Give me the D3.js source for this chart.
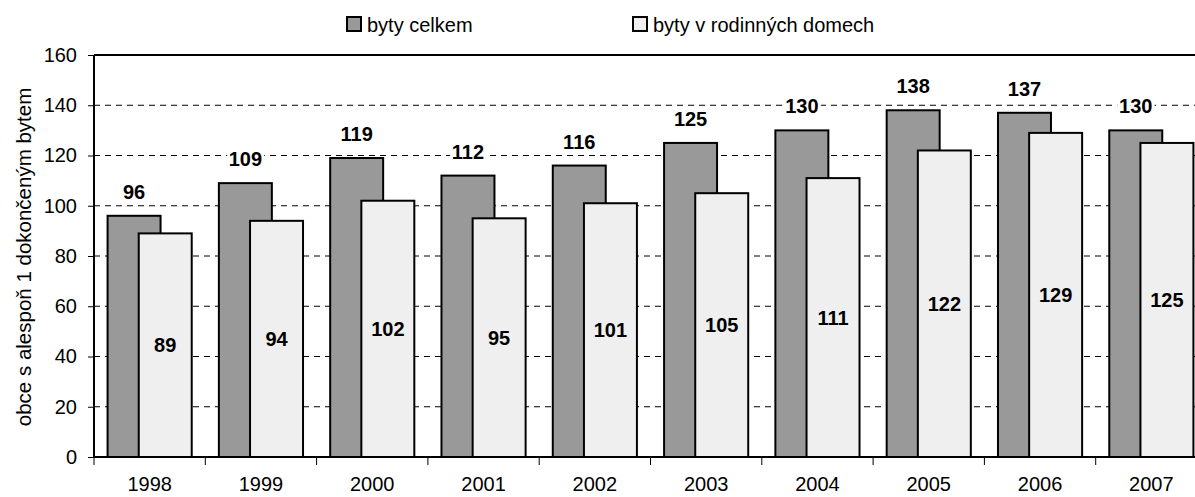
<!DOCTYPE html>
<html>
<head>
<meta charset="utf-8">
<script src="https://cdn.jsdelivr.net/npm/d3@7"></script>
<style>
  body { margin: 0; background: #fff; }
  text { font-family: "Liberation Sans", Arial, sans-serif; }
</style>
</head>
<body>
<svg id="chart" width="1195" height="497"></svg>
<script>
var years = ["1998", "1999", "2000", "2001", "2002", "2003", "2004", "2005", "2006", "2007"];
var bytyCelkem = [96, 109, 119, 112, 116, 125, 130, 138, 137, 130];
var bytyRodinne = [89, 94, 102, 95, 101, 105, 111, 122, 129, 125];
var seriesNames = ["byty celkem", "byty v rodinných domech"];
var yTicks = [0, 20, 40, 60, 80, 100, 120, 140, 160];

var svg = d3.select("#chart");
var margin = { left: 94, top: 55, right: -12, bottom: 40 };
var W = 1195, H = 497;
var plotW = W - margin.left - margin.right;
var plotH = H - margin.top - margin.bottom;

var x = d3.scaleBand().domain(years).range([0, plotW]);
var y = d3.scaleLinear().domain([0, 160]).range([plotH, 0]);

var g = svg.append("g").attr("transform", "translate(" + margin.left + "," + margin.top + ")");

// dashed grid lines
g.selectAll(".grid")
    .data(yTicks.filter(function(d) { return d > 0 && d < 160; }))
  .enter()
    .append("line")
    .attr("class", "grid")
    .attr("x1", 0).attr("x2", plotW)
    .attr("y1", function(d) { return y(d); })
    .attr("y2", function(d) { return y(d); })
    .attr("stroke", "#000")
    .attr("stroke-width", 1)
    .attr("stroke-dasharray", "6,5");

// top border
g.append("line")
    .attr("x1", 0).attr("x2", plotW)
    .attr("y1", y(160)).attr("y2", y(160))
    .attr("stroke", "#000").attr("stroke-width", 2);

var bw = x.bandwidth() * 0.476;
var shift = x.bandwidth() * 0.28;
var groupW = bw + shift;

var groups = g.selectAll(".year")
    .data(years)
  .enter()
    .append("g")
    .attr("class", "year")
    .attr("transform", function(d) {
        return "translate(" + (x(d) + (x.bandwidth() - groupW) / 2) + ",0)";
    });

groups.append("rect")
    .attr("x", 0)
    .attr("width", bw)
    .attr("y", function(d, i) { return y(bytyCelkem[i]); })
    .attr("height", function(d, i) { return plotH - y(bytyCelkem[i]); })
    .attr("fill", "#999999")
    .attr("stroke", "#000")
    .attr("stroke-width", 2);

groups.append("rect")
    .attr("x", shift)
    .attr("width", bw)
    .attr("y", function(d, i) { return y(bytyRodinne[i]); })
    .attr("height", function(d, i) { return plotH - y(bytyRodinne[i]); })
    .attr("fill", "#efefef")
    .attr("stroke", "#000")
    .attr("stroke-width", 2);

// labels
groups.append("text")
    .attr("x", bw / 2)
    .attr("y", function(d, i) { return y(bytyCelkem[i]) - 17; })
    .attr("text-anchor", "middle")
    .attr("font-size", 20)
    .attr("font-weight", "bold")
    .attr("stroke", "#fff")
    .attr("stroke-width", 6)
    .attr("paint-order", "stroke")
    .text(function(d, i) { return bytyCelkem[i]; });

groups.append("text")
    .attr("x", shift + bw / 2)
    .attr("y", function(d, i) { return (y(bytyRodinne[i]) + plotH) / 2; })
    .attr("dy", "0.35em")
    .attr("text-anchor", "middle")
    .attr("font-size", 20)
    .attr("font-weight", "bold")
    .text(function(d, i) { return bytyRodinne[i]; });

// y axis
var yAxis = g.append("g")
    .call(d3.axisLeft(y).tickValues(yTicks).tickSize(6).tickPadding(11));
yAxis.select(".domain").attr("stroke-width", 2).attr("d", "M0," + plotH + "V0");
yAxis.selectAll("text").attr("font-size", 20).attr("fill", "#000");

// x axis
var xAxis = g.append("g").attr("transform", "translate(0," + plotH + ")");
xAxis.append("line")
    .attr("x1", 0).attr("x2", plotW)
    .attr("stroke", "#000").attr("stroke-width", 2);
xAxis.selectAll(".xt")
    .data(years)
  .enter()
    .append("line")
    .attr("x1", function(d) { return x(d); })
    .attr("x2", function(d) { return x(d); })
    .attr("y1", 0).attr("y2", 8)
    .attr("stroke", "#000").attr("stroke-width", 1);
xAxis.selectAll(".xl")
    .data(years)
  .enter()
    .append("text")
    .attr("x", function(d) { return x(d) + x.bandwidth() / 2; })
    .attr("y", 34)
    .attr("text-anchor", "middle")
    .attr("font-size", 20)
    .text(function(d) { return d; });

// y axis title
svg.append("text")
    .attr("transform", "translate(31,257) rotate(-90)")
    .attr("text-anchor", "middle")
    .attr("font-size", 20.5)
    .text("obce s alespoň 1 dokončeným bytem");

// legend
var legendX = [347, 633];
var legend = svg.selectAll(".legend")
    .data(seriesNames)
  .enter()
    .append("g")
    .attr("class", "legend")
    .attr("transform", function(d, i) { return "translate(" + legendX[i] + ",17)"; });
legend.append("rect")
    .attr("width", 14).attr("height", 14)
    .attr("fill", function(d, i) { return i === 0 ? "#999999" : "#efefef"; })
    .attr("stroke", "#000").attr("stroke-width", 2);
legend.append("text")
    .attr("x", 20).attr("y", 15)
    .attr("font-size", 20)
    .text(function(d) { return d; });
</script>
</body>
</html>
